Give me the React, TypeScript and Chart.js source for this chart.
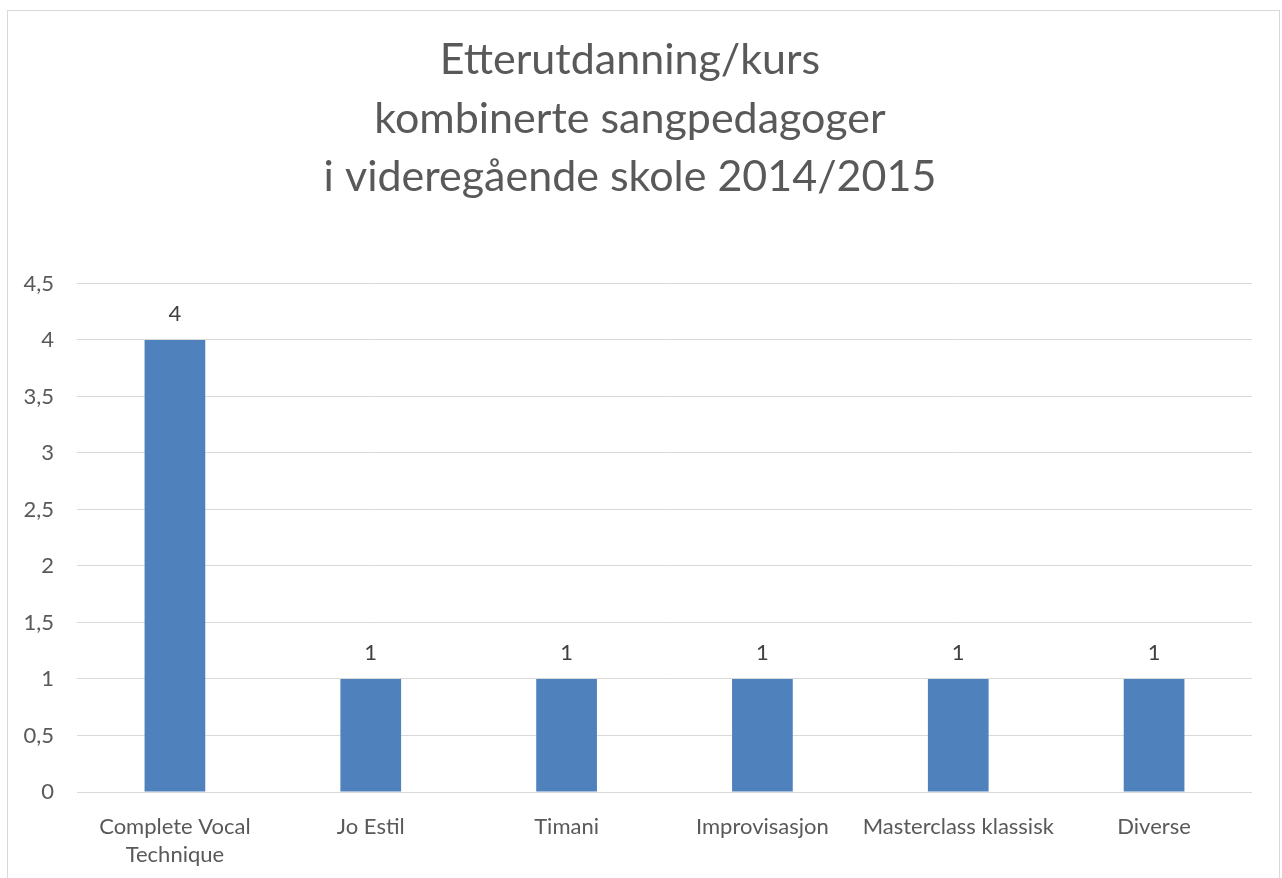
import React, { useEffect, useRef } from "react";
import { Chart, registerables } from "chart.js";

Chart.register(...registerables);

const titleLines = ["Etterutdanning/kurs", "kombinerte sangpedagoger", "i videregående skole 2014/2015"];
const categories: (string | string[])[] = [
  ["Complete Vocal", "Technique"],
  "Jo Estil",
  "Timani",
  "Improvisasjon",
  "Masterclass klassisk",
  "Diverse",
];
const values = [4, 1, 1, 1, 1, 1];
const yMin = 0;
const yMax = 4.5;
const yStep = 0.5;

const FONT = "Lato, 'Open Sans', sans-serif";

const dataLabelPlugin = {
  id: "dataLabels",
  afterDatasetsDraw(chart: any) {
    const ctx = chart.ctx;
    ctx.save();
    ctx.font = `22px ${FONT}`;
    ctx.fillStyle = "#404040";
    ctx.textAlign = "center";
    ctx.textBaseline = "middle";
    chart.data.datasets.forEach((ds: any, di: number) => {
      const meta = chart.getDatasetMeta(di);
      meta.data.forEach((el: any, i: number) => {
        ctx.fillText(String(ds.data[i]).replace(".", ","), el.x, el.y - 26);
      });
    });
    ctx.restore();
  },
};

export default function App() {
  const ref = useRef<HTMLCanvasElement>(null);
  useEffect(() => {
    if (!ref.current) return;
    const chart = new Chart(ref.current, {
      type: "bar",
      data: {
        labels: categories,
        datasets: [
          {
            data: values,
            backgroundColor: "#4F81BD",
            borderColor: "#4F81BD",
            borderWidth: 0,
            barPercentage: 0.31,
            categoryPercentage: 1,
          },
        ],
      },
      options: {
        animation: false,
        responsive: false,
        devicePixelRatio: 1,
        layout: { padding: { left: 0, right: 27, top: 0, bottom: 0 } },
        plugins: {
          legend: { display: false },
          tooltip: { enabled: false },
          title: {
            display: true,
            text: titleLines,
            color: "#595959",
            font: { family: FONT, size: 43, weight: "normal", lineHeight: 1.36 },
            padding: { top: 20, bottom: 77 },
          },
        },
        scales: {
          x: {
            grid: { display: false },
            border: { display: false },
            ticks: {
              color: "#595959",
              font: { family: FONT, size: 22, lineHeight: 1.255 },
              padding: 13,
              maxRotation: 0,
              autoSkip: false,
            },
            afterFit(scale: any) {
              scale.height = 86;
            },
          },
          y: {
            min: yMin,
            max: yMax,
            grid: { color: "#D9D9D9", lineWidth: 1, drawTicks: false },
            border: { display: false },
            ticks: {
              stepSize: yStep,
              color: "#595959",
              font: { family: FONT, size: 22 },
              padding: 23,
              callback: (v: any) => String(v).replace(".", ","),
            },
            afterFit(scale: any) {
              scale.width = 69;
            },
          },
        },
      },
      plugins: [dataLabelPlugin],
    });
    return () => chart.destroy();
  }, []);

  return (
    <div
      style={{
        position: "fixed",
        left: 7,
        top: 10,
        width: 1271,
        height: 867,
        borderLeft: "1px solid #D9D9D9",
        borderTop: "1px solid #D9D9D9",
        borderRight: "1px solid #D9D9D9",
        background: "#fff",
      }}
    >
      <canvas ref={ref} width={1271} height={867} style={{ display: "block" }} />
    </div>
  );
}
